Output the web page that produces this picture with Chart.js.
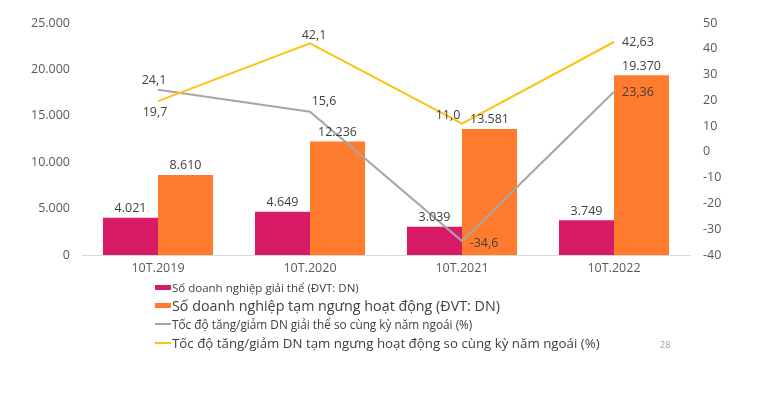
<!DOCTYPE html>
<html>
<head>
<meta charset="utf-8">
<script src="https://cdn.jsdelivr.net/npm/chart.js@4.4.0/dist/chart.umd.min.js"></script>
<style>
  html, body { margin: 0; padding: 0; background: #fff; }
  #wrap { position: relative; width: 774px; height: 393px; font-family: "Open Sans", sans-serif; }
  #legend { position: absolute; left: 155px; top: 278px; color: #404040; }
  .item { display: flex; align-items: center; height: 18.5px; white-space: nowrap; }
  .sw { width: 16px; height: 5px; margin-right: 1px; }
  .ln { width: 16px; height: 2px; margin-right: 1px; }
  #page { position: absolute; left: 660px; top: 338px; font-size: 9px; color: #a0a0a0; }
</style>
</head>
<body>
<div id="wrap">
  <canvas id="chart" width="774" height="393"></canvas>
  <div id="legend"></div>
  <div id="page">28</div>
</div>
<script>
// ---- data ----
const categories = ['10T.2019', '10T.2020', '10T.2021', '10T.2022'];
const dissolved = [4021, 4649, 3039, 3749];
const suspended = [8610, 12236, 13581, 19370];
const dissolvedGrowth = [24.1, 15.6, -34.6, 23.36];
const suspendedGrowth = [19.7, 42.1, 11.0, 42.63];
const dissolvedGrowthText = ['24,1', '15,6', '-34,6', '23,36'];
const suspendedGrowthText = ['19,7', '42,1', '11,0', '42,63'];
const leftTicks = [0, 5000, 10000, 15000, 20000, 25000];
const rightTicks = [-40, -30, -20, -10, 0, 10, 20, 30, 40, 50];

const seriesNames = [
  'Số doanh nghiệp giải thể (ĐVT: DN)',
  'Số doanh nghiệp tạm ngưng hoạt động (ĐVT: DN)',
  'Tốc độ tăng/giảm DN giải thể so cùng kỳ năm ngoái (%)',
  'Tốc độ tăng/giảm DN tạm ngưng hoạt động so cùng kỳ năm ngoái (%)'
];

// label offsets for the line values (px)
const greyOffsets = [[-4, -9], [14, -10], [22, 2], [24, 1]];
const yellowOffsets = [[-3, 11], [4, -8], [-14, -8], [24, 0]];

const PINK = '#D81B66';
const ORANGE = '#FF7B2E';
const GREY = '#A6A6A6';
const YELLOW = '#FFC20E';

const fmtDot = v => v.toLocaleString('de-DE');

const valueLabels = {
  id: 'valueLabels',
  afterDatasetsDraw(chart) {
    const ctx = chart.ctx;
    ctx.save();
    ctx.font = '12.5px "Open Sans"';
    ctx.fillStyle = '#404040';
    ctx.textAlign = 'center';
    ctx.textBaseline = 'bottom';
    [0, 1].forEach(di => {
      chart.getDatasetMeta(di).data.forEach((bar, i) => {
        ctx.fillText(fmtDot(chart.data.datasets[di].data[i]), bar.x, bar.y - 3);
      });
    });
    ctx.textBaseline = 'middle';
    chart.getDatasetMeta(2).data.forEach((pt, i) => {
      ctx.fillText(dissolvedGrowthText[i], pt.x + greyOffsets[i][0], pt.y + greyOffsets[i][1]);
    });
    chart.getDatasetMeta(3).data.forEach((pt, i) => {
      ctx.fillText(suspendedGrowthText[i], pt.x + yellowOffsets[i][0], pt.y + yellowOffsets[i][1]);
    });
    ctx.restore();
  }
};

const tickFont = { family: 'Open Sans', size: 12.5 };

new Chart(document.getElementById('chart'), {
  type: 'bar',
  data: {
    labels: categories,
    datasets: [
      { label: seriesNames[0], data: dissolved, backgroundColor: PINK, yAxisID: 'y', order: 2 },
      { label: seriesNames[1], data: suspended, backgroundColor: ORANGE, yAxisID: 'y', order: 2 },
      { type: 'line', label: seriesNames[2], data: dissolvedGrowth, borderColor: GREY, borderWidth: 2,
        pointRadius: 0, tension: 0, yAxisID: 'y1', order: 1 },
      { type: 'line', label: seriesNames[3], data: suspendedGrowth, borderColor: YELLOW, borderWidth: 2,
        pointRadius: 0, tension: 0, yAxisID: 'y1', order: 0 }
    ]
  },
  options: {
    responsive: false,
    animation: false,
    layout: { padding: { top: 23, left: 0, right: 0, bottom: 0 } },
    datasets: { bar: { categoryPercentage: 0.724, barPercentage: 1 } },
    plugins: { legend: { display: false }, tooltip: { enabled: false } },
    scales: {
      x: {
        grid: { display: false, drawTicks: false },
        border: { color: '#d9d9d9', width: 1 },
        ticks: { color: '#595959', font: tickFont, padding: 6 },
        afterFit(s) { s.height = 393 - 255; }
      },
      y: {
        position: 'left', min: 0, max: 25000,
        afterBuildTicks(s) { s.ticks = leftTicks.map(v => ({ value: v })); },
        grid: { display: false, drawTicks: false },
        border: { display: false },
        ticks: { color: '#595959', font: tickFont, padding: 12,
          callback: v => fmtDot(v) },
        afterFit(s) { s.width = 82; }
      },
      y1: {
        position: 'right', min: -40, max: 50,
        afterBuildTicks(s) { s.ticks = rightTicks.map(v => ({ value: v })); },
        grid: { display: false, drawTicks: false },
        border: { display: false },
        ticks: { color: '#595959', font: tickFont, padding: 13 },
        afterFit(s) { s.width = 84; }
      }
    }
  },
  plugins: [valueLabels]
});

// legend
const legendStyle = [
  { kind: 'sw', color: PINK, size: 11.5 },
  { kind: 'sw', color: ORANGE, size: 14.3 },
  { kind: 'ln', color: GREY, size: 11.8 },
  { kind: 'ln', color: YELLOW, size: 13.3 }
];
const legend = document.getElementById('legend');
seriesNames.forEach((name, i) => {
  const st = legendStyle[i];
  const row = document.createElement('div');
  row.className = 'item';
  row.style.fontSize = st.size + 'px';
  const mark = document.createElement('span');
  mark.className = st.kind;
  mark.style.background = st.color;
  row.appendChild(mark);
  const txt = document.createElement('span');
  txt.textContent = name;
  row.appendChild(txt);
  legend.appendChild(row);
});
</script>
</body>
</html>
